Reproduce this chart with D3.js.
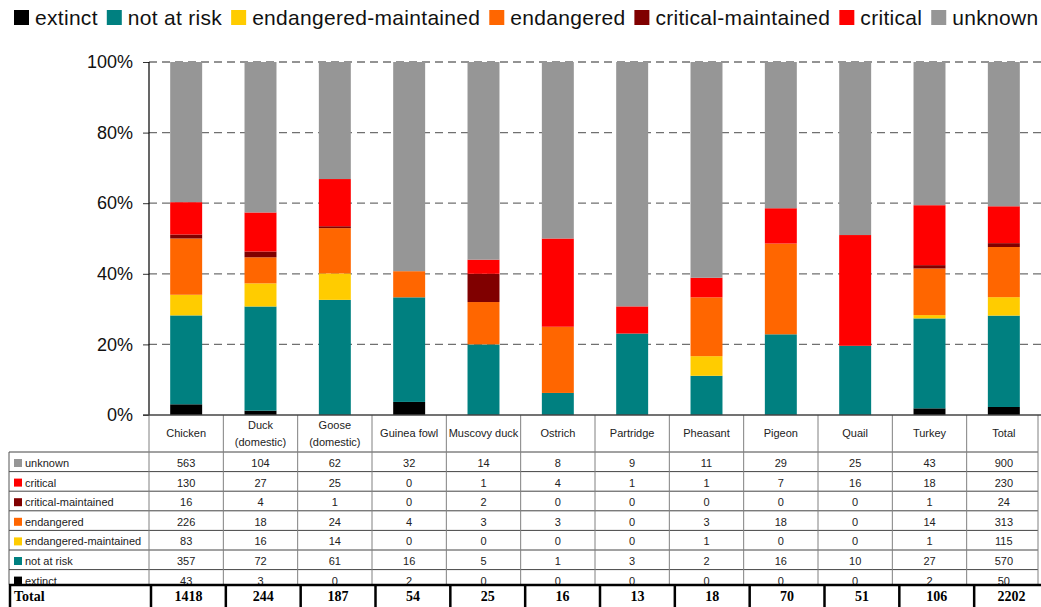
<!DOCTYPE html>
<html>
<head>
<meta charset="utf-8">
<script src="https://cdn.jsdelivr.net/npm/d3@7"></script>
<style>
  body { margin: 0; background: #fff; }
  svg { display: block; font-family: "Liberation Sans", Arial, sans-serif; }
</style>
</head>
<body>
<div id="chart"></div>
<script>
// ### Data ###################################################################
var categories = ["Chicken", "Duck (domestic)", "Goose (domestic)", "Guinea fowl", "Muscovy duck",
                  "Ostrich", "Partridge", "Pheasant", "Pigeon", "Quail", "Turkey", "Total"];
var headerLines = [["Chicken"], ["Duck", "(domestic)"], ["Goose", "(domestic)"], ["Guinea fowl"], ["Muscovy duck"],
                   ["Ostrich"], ["Partridge"], ["Pheasant"], ["Pigeon"], ["Quail"], ["Turkey"], ["Total"]];

var statuses = ["extinct", "not at risk", "endangered-maintained", "endangered", "critical-maintained", "critical", "unknown"];
var statusColors = ["#000000", "#008080", "#ffcc00", "#ff6600", "#800000", "#ff0000", "#969696"];

var extinct     = [43, 3, 0, 2, 0, 0, 0, 0, 0, 0, 2, 50];
var notAtRisk   = [357, 72, 61, 16, 5, 1, 3, 2, 16, 10, 27, 570];
var endMaint    = [83, 16, 14, 0, 0, 0, 0, 1, 0, 0, 1, 115];
var endangered  = [226, 18, 24, 4, 3, 3, 0, 3, 18, 0, 14, 313];
var critMaint   = [16, 4, 1, 0, 2, 0, 0, 0, 0, 0, 1, 24];
var critical    = [130, 27, 25, 0, 1, 4, 1, 1, 7, 16, 18, 230];
var unknown     = [563, 104, 62, 32, 14, 8, 9, 11, 29, 25, 43, 900];
var totals      = [1418, 244, 187, 54, 25, 16, 13, 18, 70, 51, 106, 2202];

var yTicks = [0, 0.2, 0.4, 0.6, 0.8, 1];

// ### Build rows for stacking ################################################
var seriesValues = [extinct, notAtRisk, endMaint, endangered, critMaint, critical, unknown];
var rows = categories.map(function(c, i) {
    var r = { category: c };
    statuses.forEach(function(s, k) { r[s] = seriesValues[k][i]; });
    return r;
});

var width = 1041, height = 607;
var plot = { left: 149, right: 1041, top: 62, bottom: 415 };

var svg = d3.select("#chart").append("svg")
    .attr("width", width)
    .attr("height", height);

var x = d3.scaleBand()
    .domain(categories)
    .range([plot.left, plot.right])
    .padding(0);

// the Total row of the table is drawn slightly wider in the original
var xTotal = d3.scaleBand()
    .domain(categories)
    .range([151, 1049])
    .padding(0);

var y = d3.scaleLinear()
    .domain([0, 1])
    .range([plot.bottom, plot.top]);

var color = d3.scaleOrdinal()
    .domain(statuses)
    .range(statusColors);

var stack = d3.stack()
    .keys(statuses)
    .offset(d3.stackOffsetExpand);
var layers = stack(rows);

// ### Gridlines ##############################################################
svg.append("g")
    .selectAll("line")
    .data(yTicks.filter(function(d) { return d > 0; }))
    .enter().append("line")
    .attr("x1", plot.left)
    .attr("x2", plot.right)
    .attr("y1", function(d) { return y(d); })
    .attr("y2", function(d) { return y(d); })
    .style("stroke", "#707070")
    .style("stroke-width", 1.3)
    .style("stroke-dasharray", "8,5");

// ### Bars ###################################################################
var barW = x.bandwidth() * 0.43;
svg.append("g")
    .selectAll("g")
    .data(layers)
    .enter().append("g")
    .style("fill", function(d) { return color(d.key); })
    .selectAll("rect")
    .data(function(d) { return d; })
    .enter().append("rect")
    .attr("x", function(d) { return x(d.data.category) + (x.bandwidth() - barW) / 2; })
    .attr("width", barW)
    .attr("y", function(d) { return y(d[1]); })
    .attr("height", function(d) { return y(d[0]) - y(d[1]); });

// ### Y axis #################################################################
var yAxis = d3.axisLeft(y)
    .tickValues(yTicks)
    .tickFormat(d3.format(".0%"))
    .tickSize(6)
    .tickPadding(10);

var yAxisG = svg.append("g")
    .attr("transform", "translate(" + plot.left + ",0)")
    .call(yAxis);
yAxisG.select(".domain").remove();
yAxisG.selectAll(".tick line").style("stroke", "#333");
yAxisG.selectAll("text")
    .style("font-size", "18px")
    .style("fill", "#111")
    .style("font-family", "'Liberation Sans', Arial, sans-serif");

svg.append("line")
    .attr("x1", plot.left).attr("x2", plot.left)
    .attr("y1", plot.top).attr("y2", plot.bottom)
    .style("stroke", "#000")
    .style("stroke-width", 1.2);

// ### Table ##################################################################
var tableTop = 452, rowH = 19.6, totalTop = 585, tableLeft = 9;
var tableRows = statuses.slice().reverse();
var tableVals = seriesValues.slice().reverse();

var table = svg.append("g").attr("class", "table");

// header labels
var header = table.selectAll(".header")
    .data(categories)
    .enter().append("text")
    .attr("class", "header")
    .attr("text-anchor", "middle")
    .attr("x", function(d) { return x(d) + x.bandwidth() / 2; })
    .style("font-size", "11px")
    .style("fill", "#222");
header.each(function(d, i) {
    var lines = headerLines[i];
    var t = d3.select(this);
    lines.forEach(function(l, j) {
        t.append("tspan")
            .attr("x", x(d) + x.bandwidth() / 2)
            .attr("y", lines.length === 1 ? 437 : 429 + j * 17)
            .text(l);
    });
});

// row labels and values
var row = table.selectAll(".trow")
    .data(tableRows)
    .enter().append("g")
    .attr("class", "trow")
    .attr("transform", function(d, i) { return "translate(0," + (tableTop + i * rowH) + ")"; });

row.append("rect")
    .attr("x", 14).attr("y", 7)
    .attr("width", 8).attr("height", 8)
    .style("fill", function(d) { return color(d); });

row.append("text")
    .attr("x", 25).attr("y", 15)
    .style("font-size", "11px")
    .style("fill", "#222")
    .text(function(d) { return d; });

row.selectAll(".val")
    .data(function(d, i) { return tableVals[i]; })
    .enter().append("text")
    .attr("class", "val")
    .attr("text-anchor", "middle")
    .attr("x", function(d, i) { return x(categories[i]) + x.bandwidth() / 2; })
    .attr("y", 15)
    .style("font-size", "11px")
    .style("fill", "#222")
    .text(function(d) { return d; });

// horizontal rules of the table
table.selectAll(".hrule")
    .data(d3.range(tableRows.length))
    .enter().append("line")
    .attr("x1", tableLeft).attr("x2", 1038)
    .attr("y1", function(i) { return tableTop + i * rowH; })
    .attr("y2", function(i) { return tableTop + i * rowH; })
    .style("stroke", "#444")
    .style("stroke-width", 1);

// vertical rules
var bounds = categories.map(function(c) { return x(c); }).concat([1038]);
table.selectAll(".vrule")
    .data(bounds)
    .enter().append("line")
    .attr("x1", function(d) { return d; }).attr("x2", function(d) { return d; })
    .attr("y1", plot.bottom).attr("y2", totalTop)
    .style("stroke", "#808080")
    .style("stroke-width", 1);

table.append("line")
    .attr("x1", tableLeft).attr("x2", tableLeft)
    .attr("y1", tableTop).attr("y2", totalTop)
    .style("stroke", "#555");

// x axis line
svg.append("line")
    .attr("x1", 143).attr("x2", plot.right)
    .attr("y1", plot.bottom).attr("y2", plot.bottom)
    .style("stroke", "#444")
    .style("stroke-width", 1.4);

// ### Total row ##############################################################
var totalG = svg.append("g").attr("class", "total-row");
totalG.append("rect")
    .attr("x", tableLeft).attr("y", totalTop)
    .attr("width", width - tableLeft).attr("height", height - totalTop)
    .style("fill", "#fff");
totalG.append("line")
    .attr("x1", tableLeft).attr("x2", width)
    .attr("y1", totalTop).attr("y2", totalTop)
    .style("stroke", "#000").style("stroke-width", 2.5);

var totalBounds = [tableLeft + 1].concat(categories.map(function(c) { return xTotal(c); }));
totalG.selectAll(".tv")
    .data(totalBounds)
    .enter().append("line")
    .attr("x1", function(d) { return d; }).attr("x2", function(d) { return d; })
    .attr("y1", totalTop).attr("y2", height)
    .style("stroke", "#000").style("stroke-width", 2.5);

totalG.append("text")
    .attr("x", 14).attr("y", 601)
    .style("font-family", "'Liberation Serif', 'DejaVu Serif', serif")
    .style("font-weight", "bold")
    .style("font-size", "14px")
    .text("Total");

totalG.selectAll(".tt")
    .data(totals)
    .enter().append("text")
    .attr("text-anchor", "middle")
    .attr("x", function(d, i) { return xTotal(categories[i]) + xTotal.bandwidth() / 2; })
    .attr("y", 601)
    .style("font-family", "'Liberation Serif', 'DejaVu Serif', serif")
    .style("font-weight", "bold")
    .style("font-size", "14px")
    .text(function(d) { return d; });

// ### Legend #################################################################
var legend = svg.append("g").attr("class", "legend");
var lx = 14;
statuses.forEach(function(s) {
    legend.append("rect")
        .attr("x", lx).attr("y", 10)
        .attr("width", 15).attr("height", 15)
        .style("fill", color(s));
    var t = legend.append("text")
        .attr("x", lx + 21).attr("y", 25)
        .style("font-size", "21px")
        .style("letter-spacing", "0.3px")
        .style("fill", "#111")
        .text(s);
    lx += 21 + t.node().getComputedTextLength() + 9;
});
</script>
</body>
</html>
